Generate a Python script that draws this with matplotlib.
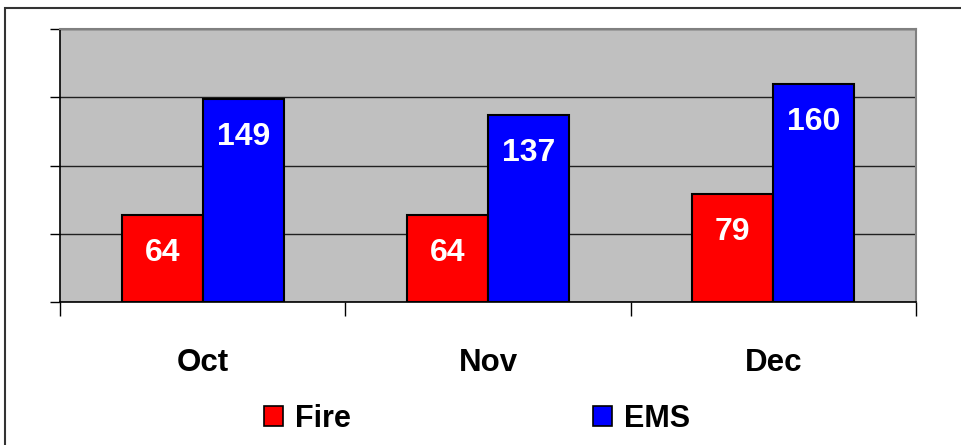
import matplotlib
matplotlib.use("Agg")
import matplotlib.pyplot as plt
import numpy as np
from matplotlib.patches import Rectangle, Patch

months = ["Oct", "Nov", "Dec"]
fire = [64, 64, 79]
ems = [149, 137, 160]
series_names = ["Fire", "EMS"]
colors = ["#FF0000", "#0000FF"]

W, H = 961, 445
fig = plt.figure(figsize=(W / 100, H / 100), dpi=100)
plt.rcParams['font.family'] = ['Liberation Sans', 'DejaVu Sans']

# plot area in pixels: left 60, right 916, top 29, bottom 302
ax = fig.add_axes([60 / W, 1 - 302 / H, (916 - 60) / W, (302 - 29) / H])
ax.set_facecolor("#C0C0C0")

x = np.arange(len(months))
bw = 0.284
bars_f = ax.bar(x - bw / 2, fire, bw, color=colors[0], edgecolor="black", linewidth=1.5, zorder=3)
bars_e = ax.bar(x + bw / 2, ems, bw, color=colors[1], edgecolor="black", linewidth=1.5, zorder=3)

for bars, vals in ((bars_f, fire), (bars_e, ems)):
    for b, v in zip(bars, vals):
        ax.annotate(str(v), (b.get_x() + b.get_width() / 2, v), xytext=(0, -38),
                    textcoords="offset pixels", ha="center", va="center",
                    color="white", fontsize=23, fontweight="bold", zorder=4)

ax.set_xlim(-0.5, 2.5)
ax.set_ylim(0, 200)
ax.set_yticks([0, 50, 100, 150, 200])
ax.set_yticklabels([])
ax.yaxis.grid(True, color="#202020", linewidth=1.0, zorder=1)
ax.tick_params(axis="y", length=7, width=1, color="black")

ax.set_xticks(x)
ax.set_xticklabels(months, fontsize=22.5, fontweight="bold")
ax.tick_params(axis="x", which="major", length=0, pad=33)
ax.set_xticks([-0.5, 0.5, 1.5, 2.5], minor=True)
ax.tick_params(axis="x", which="minor", length=10, width=1, color="black")

for s in ("top", "right"):
    ax.spines[s].set_color("#808080")
    ax.spines[s].set_linewidth(1.5)
for s in ("left", "bottom"):
    ax.spines[s].set_color("black")
    ax.spines[s].set_linewidth(1.2)

handles = [Patch(facecolor=c, edgecolor="black", linewidth=1.2) for c in colors]
fig.legend(handles, series_names, loc="center", bbox_to_anchor=(477 / W, 1 - 419 / H),
           ncol=2, frameon=False, prop={"size": 22, "weight": "bold"},
           handlelength=0.62, handleheight=0.62, handletextpad=0.4, columnspacing=7.9)

# outer frame
fig.patches.append(Rectangle((5 / W, -0.1), 1.2, 1 - 8 / H + 0.1, transform=fig.transFigure,
                             fill=False, edgecolor="#333333", linewidth=1.5))

fig.savefig("out.png", dpi=100)
